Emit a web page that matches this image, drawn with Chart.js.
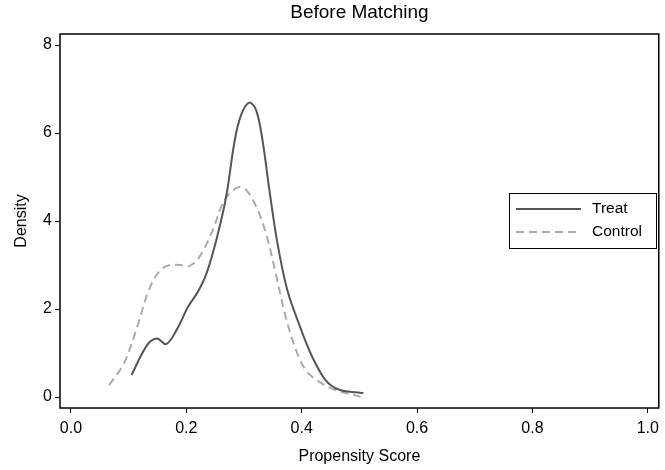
<!DOCTYPE html>
<html>
<head>
<meta charset="utf-8">
<script src="https://cdn.jsdelivr.net/npm/chart.js@4/dist/chart.umd.min.js"></script>
<style>
  html, body { margin: 0; padding: 0; background: #fff; }
</style>
</head>
<body>
<canvas id="chart" width="665" height="470"></canvas>
<script>
// Kernel density estimates
const treatX = [0.105, 0.132, 0.149, 0.165, 0.183, 0.203, 0.220, 0.235, 0.252, 0.269, 0.284, 0.295, 0.309, 0.321, 0.332, 0.344, 0.358, 0.375, 0.395, 0.418, 0.441, 0.464, 0.498, 0.507];
const treatY = [0.50, 1.18, 1.33, 1.20, 1.52, 2.05, 2.39, 2.81, 3.57, 4.55, 5.84, 6.41, 6.69, 6.52, 5.84, 4.70, 3.49, 2.43, 1.67, 0.92, 0.39, 0.17, 0.10, 0.09];
const controlX = [0.066, 0.092, 0.115, 0.135, 0.155, 0.172, 0.189, 0.206, 0.223, 0.246, 0.263, 0.278, 0.292, 0.304, 0.321, 0.338, 0.355, 0.372, 0.390, 0.407, 0.430, 0.458, 0.498, 0.502];
const controlY = [0.27, 0.77, 1.60, 2.43, 2.89, 3.00, 3.00, 2.98, 3.19, 3.80, 4.40, 4.67, 4.77, 4.70, 4.33, 3.72, 2.81, 1.83, 1.07, 0.61, 0.35, 0.16, 0.02, 0.00];

const xTicks = [0, 0.2, 0.4, 0.6, 0.8, 1.0];
const yTicks = [0, 2, 4, 6, 8];
const seriesNames = ['Treat', 'Control'];

const FONT = "'Liberation Sans', Arial, sans-serif";

function toPoints(xs, ys) {
    return xs.map((x, i) => ({ x: x, y: ys[i] }));
}

// frame, title and legend box drawn on top
const decorations = {
    id: 'decorations',
    afterDraw(chart) {
        const ctx = chart.ctx;
        const a = chart.chartArea;
        ctx.save();
        ctx.strokeStyle = '#000';
        ctx.lineWidth = 1.5;
        ctx.strokeRect(a.left, a.top, a.right - a.left, a.bottom - a.top);

        ctx.fillStyle = '#000';
        ctx.font = '19px ' + FONT;
        ctx.textAlign = 'center';
        ctx.textBaseline = 'middle';
        ctx.fillText('Before Matching', (a.left + a.right) / 2, 13);

        // legend
        const bx = 509, by = 193, bw = 147, bh = 55;
        ctx.fillStyle = '#fff';
        ctx.fillRect(bx, by, bw, bh);
        ctx.strokeStyle = '#000';
        ctx.lineWidth = 1;
        ctx.strokeRect(bx + 0.5, by + 0.5, bw, bh);
        const rows = [209, 232];
        chart.data.datasets.forEach((ds, i) => {
            ctx.strokeStyle = ds.borderColor;
            ctx.lineWidth = 2;
            ctx.setLineDash(ds.borderDash || []);
            ctx.beginPath();
            ctx.moveTo(516, rows[i]);
            ctx.lineTo(581, rows[i]);
            ctx.stroke();
            ctx.setLineDash([]);
            ctx.fillStyle = '#000';
            ctx.font = '15.5px ' + FONT;
            ctx.textAlign = 'left';
            ctx.fillText(ds.label, 592, rows[i]);
        });
        ctx.restore();
    }
};

new Chart(document.getElementById('chart'), {
    type: 'scatter',
    data: {
        datasets: [{
            label: seriesNames[0],
            data: toPoints(treatX, treatY),
            showLine: true,
            borderColor: '#555555',
            borderWidth: 2,
            pointRadius: 0,
            tension: 0.35
        }, {
            label: seriesNames[1],
            data: toPoints(controlX, controlY),
            showLine: true,
            borderColor: '#aaaaaa',
            borderWidth: 2,
            borderDash: [8, 5],
            pointRadius: 0,
            tension: 0.35
        }]
    },
    options: {
        responsive: false,
        animation: false,
        layout: { padding: { top: 34, right: 3, left: 0, bottom: 0 } },
        plugins: {
            legend: { display: false },
            title: { display: false },
            tooltip: { enabled: false }
        },
        scales: {
            x: {
                type: 'linear',
                min: -0.019,
                max: 1.019,
                afterBuildTicks: (s) => { s.ticks = xTicks.map(v => ({ value: v })); },
                afterFit: (s) => { s.height = 62; },
                grid: { drawOnChartArea: false, drawTicks: true, tickLength: 5, color: '#000' },
                border: { display: false },
                ticks: {
                    color: '#000',
                    font: { family: FONT, size: 16 },
                    padding: 6,
                    maxRotation: 0,
                    callback: (v) => Number(v).toFixed(1)
                },
                title: {
                    display: true,
                    text: 'Propensity Score',
                    color: '#000',
                    font: { family: FONT, size: 16 },
                    padding: { top: 4 }
                }
            },
            y: {
                min: -0.25,
                max: 8.25,
                afterBuildTicks: (s) => { s.ticks = yTicks.map(v => ({ value: v })); },
                afterFit: (s) => { s.width = 60; },
                grid: { drawOnChartArea: false, drawTicks: true, tickLength: 5, color: '#000' },
                border: { display: false },
                ticks: {
                    color: '#000',
                    font: { family: FONT, size: 16 },
                    padding: 3
                },
                title: {
                    display: true,
                    text: 'Density',
                    color: '#000',
                    font: { family: FONT, size: 16 },
                    padding: { top: 12, bottom: 4 }
                }
            }
        }
    },
    plugins: [decorations]
});
</script>
</body>
</html>
